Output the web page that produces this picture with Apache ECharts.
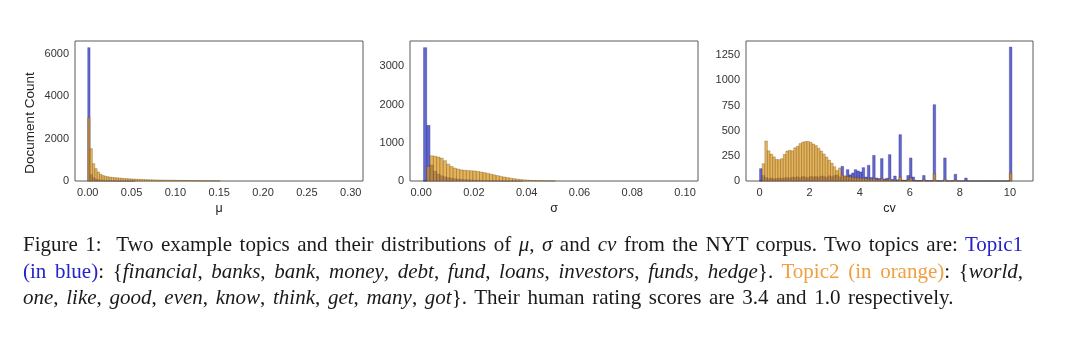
<!DOCTYPE html>
<html>
<head>
<meta charset="utf-8">
<script src="https://cdn.jsdelivr.net/npm/echarts@6/dist/echarts.min.js"></script>
<style>
  html, body { margin: 0; padding: 0; background: #fff; }
  #chart { position: absolute; left: 0; top: 0; width: 1080px; height: 343px; }
  #caption { position: absolute; left: 23px; top: 231px; width: 1000px;
    font-family: "Liberation Serif", "DejaVu Serif", serif; font-size: 21px; line-height: 26.5px; color: #1a1a1a; }
  #caption .j { text-align: justify; text-align-last: justify; white-space: nowrap; }
  #caption .l { text-align: left; white-space: nowrap; word-spacing: 2.4px; }
  .blue { color: #2323c8; }
  .orange { color: #f0a040; }
</style>
</head>
<body>
<div id="chart"></div>
<div id="caption">
  <div class="j">Figure 1:&nbsp; Two example topics and their distributions of <i>μ</i>, <i>σ</i> and <i>cv</i> from the NYT corpus. Two topics are: <span class="blue">Topic1</span></div>
  <div class="j"><span class="blue">(in blue)</span>: {<i>financial</i>, <i>banks</i>, <i>bank</i>, <i>money</i>, <i>debt</i>, <i>fund</i>, <i>loans</i>, <i>investors</i>, <i>funds</i>, <i>hedge</i>}. <span class="orange">Topic2 (in orange)</span>: {<i>world</i>,</div>
  <div class="l"><i>one</i>, <i>like</i>, <i>good</i>, <i>even</i>, <i>know</i>, <i>think</i>, <i>get</i>, <i>many</i>, <i>got</i>}. Their human rating scores are 3.4 and 1.0 respectively.</div>
</div>
<script>
// ---------------- data ----------------
// mu histogram (bin start, bin width, counts)
const muStart = 0;
const muWidth = 0.0027;
const muBlue = [6280, 300, 160, 95, 60, 42, 30, 22, 16, 12, 9, 7, 5, 4, 3, 2, 2, 1, 1, 1];
const muOrange = [2986, 1525, 820, 585, 425, 320, 262, 224, 203, 184, 171, 158, 151, 139, 131, 119, 113, 104, 99, 91,
  87, 80, 76, 69, 66, 61, 59, 54, 52, 49, 48, 45, 44, 41, 40, 37, 36, 33, 32, 29,
  28, 25, 24, 21, 20, 17, 16, 13, 12, 10, 9, 8, 7, 6, 5, 4];
const muTicks = [0, 0.05, 0.10, 0.15, 0.20, 0.25, 0.30];
const muCountTicks = [0, 2000, 4000, 6000];

// sigma histogram
const sigmaStart = 0.0009;
const sigmaWidth = 0.00125;
const sigmaBlue = [3489, 1457, 420, 260, 185, 140, 112, 92, 76, 62, 52, 45, 39, 34, 29, 25, 21, 18, 15, 12,
  10, 8, 6, 5, 4, 3, 2, 2, 1, 1];
const sigmaOrange = [0, 380, 660, 648, 628, 598, 532, 442, 382, 338, 312, 291, 281, 274, 268, 263, 251, 236, 219, 201,
  181, 160, 141, 121, 104, 89, 74, 61, 48, 38, 30, 24, 19, 15, 11, 8, 6, 4, 3, 2];
const sigmaTicks = [0, 0.02, 0.04, 0.06, 0.08, 0.10];
const sigmaCountTicks = [0, 1000, 2000, 3000];

// cv histogram
const cvStart = 0;
const cvWidth = 0.105;
const cvBlue = [123, 55, 35, 25, 30, 22, 25, 30, 26, 32, 35, 30, 40, 36, 42, 35, 45, 40, 36, 46,
  42, 45, 40, 50, 46, 40, 52, 44, 55, 60, 42, 146, 48, 113, 62, 80, 113, 100, 90, 133,
  40, 156, 35, 255, 30, 25, 223, 20, 28, 262, 15, 50, 12, 461, 10, 8, 55, 229, 40, 6,
  5, 4, 55, 3, 2, 3, 759, 2, 1, 1, 229, 1, 0, 1, 67, 0, 0, 0, 30, 0,
  0, 0, 0, 0, 0, 0, 0, 0, 0, 0, 0, 0, 0, 0, 0, 1332];
const cvOrange = [0, 172, 398, 300, 268, 240, 215, 212, 222, 265, 298, 305, 300, 330, 345, 372, 388, 392, 394, 385,
  368, 352, 325, 298, 268, 239, 208, 178, 142, 104, 130, 58, 50, 44, 40, 36, 33, 30, 28, 25,
  24, 20, 19, 25, 14, 13, 24, 10, 9, 20, 7, 9, 5, 40, 4, 3, 10, 30, 5, 2,
  2, 1, 14, 0, 0, 1, 72, 0, 0, 0, 18, 0, 0, 0, 8, 0, 0, 0, 3, 0,
  0, 0, 0, 0, 0, 0, 0, 0, 0, 0, 0, 0, 0, 0, 0, 80];
const cvTicks = [0, 2, 4, 6, 8, 10];
const cvCountTicks = [0, 250, 500, 750, 1000, 1250];

// ---------------- chart ----------------
const BLUE = 'rgba(25,32,180,0.68)';
const ORANGE = 'rgba(220,150,20,0.7)';
const EDGE_B = 'rgba(20,20,120,0.55)';
const EDGE_O = 'rgba(90,60,20,0.55)';
const SANS = 'Liberation Sans, Arial, sans-serif';

function bins(start, width, counts) {
  return counts.map((c, i) => [start + i * width, start + (i + 1) * width, c]);
}

function renderBar(fill, stroke) {
  return function (params, api) {
    const p0 = api.coord([api.value(0), 0]);
    const p1 = api.coord([api.value(1), api.value(2)]);
    return {
      type: 'rect',
      shape: { x: p0[0], y: p1[1], width: p1[0] - p0[0], height: p0[1] - p1[1] },
      style: { fill: fill, stroke: stroke, lineWidth: 0.5 }
    };
  };
}

const grids = [
  { left: 75, top: 41, width: 288, height: 140 },
  { left: 410, top: 41, width: 288, height: 140 },
  { left: 746, top: 41, width: 287, height: 140 }
].map(g => Object.assign(g, { show: true, borderColor: '#5a5a5a', borderWidth: 1, backgroundColor: 'transparent' }));

const labelFont = { fontFamily: SANS, fontSize: 11, color: '#333' };

function xAxis(idx, min, max, ticks, fmt, name) {
  return {
    type: 'value', gridIndex: idx, min: min, max: max,
    axisLine: { show: false }, axisTick: { show: false }, splitLine: { show: false },
    axisLabel: Object.assign({ customValues: ticks, formatter: fmt, margin: 6 }, labelFont),
    name: name, nameLocation: 'middle', nameGap: 21,
    nameTextStyle: { fontFamily: SANS, fontSize: 12.5, color: '#222' }
  };
}
function yAxis(idx, max, ticks) {
  return {
    type: 'value', gridIndex: idx, min: 0, max: max,
    axisLine: { show: false }, axisTick: { show: false }, splitLine: { show: false },
    axisLabel: Object.assign({ customValues: ticks, formatter: v => String(v), margin: 6 }, labelFont)
  };
}

const option = {
  animation: false,
  backgroundColor: '#fff',
  grid: grids,
  graphic: [{
    type: 'text', x: 30, y: 123, rotation: Math.PI / 2,
    style: { text: 'Document Count', align: 'center', verticalAlign: 'middle', font: '13.5px ' + SANS, fill: '#222' }
  }],
  xAxis: [
    xAxis(0, -0.0145, 0.314, muTicks, v => v.toFixed(2), 'μ'),
    xAxis(1, -0.0042, 0.1049, sigmaTicks, v => v.toFixed(2), 'σ'),
    xAxis(2, -0.54, 10.92, cvTicks, v => String(Math.round(v)), 'cv')
  ],
  yAxis: [
    yAxis(0, 6594, muCountTicks),
    yAxis(1, 3663, sigmaCountTicks),
    yAxis(2, 1392, cvCountTicks)
  ],
  series: [
    { type: 'custom', xAxisIndex: 0, yAxisIndex: 0, renderItem: renderBar(BLUE, EDGE_B), data: bins(muStart, muWidth, muBlue), z: 2 },
    { type: 'custom', xAxisIndex: 0, yAxisIndex: 0, renderItem: renderBar(ORANGE, EDGE_O), data: bins(muStart, muWidth, muOrange), z: 3 },
    { type: 'custom', xAxisIndex: 1, yAxisIndex: 1, renderItem: renderBar(BLUE, EDGE_B), data: bins(sigmaStart, sigmaWidth, sigmaBlue), z: 2 },
    { type: 'custom', xAxisIndex: 1, yAxisIndex: 1, renderItem: renderBar(ORANGE, EDGE_O), data: bins(sigmaStart, sigmaWidth, sigmaOrange), z: 3 },
    { type: 'custom', xAxisIndex: 2, yAxisIndex: 2, renderItem: renderBar(BLUE, EDGE_B), data: bins(cvStart, cvWidth, cvBlue), z: 2 },
    { type: 'custom', xAxisIndex: 2, yAxisIndex: 2, renderItem: renderBar(ORANGE, EDGE_O), data: bins(cvStart, cvWidth, cvOrange), z: 3 }
  ]
};

const chart = echarts.init(document.getElementById('chart'), null, { renderer: 'canvas' });
chart.setOption(option);
</script>
</body>
</html>
